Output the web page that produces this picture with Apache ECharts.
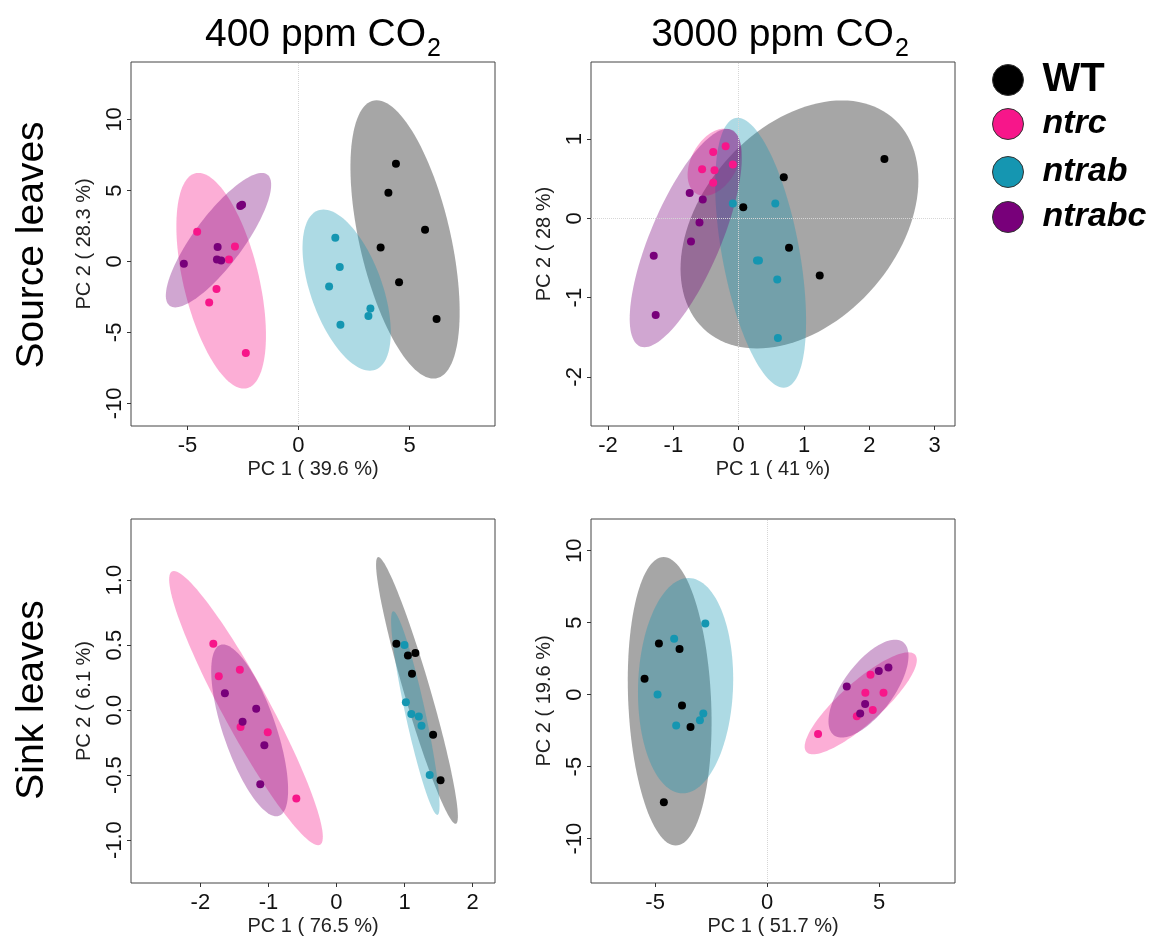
<!DOCTYPE html>
<html><head><meta charset="utf-8">
<script src="https://cdn.jsdelivr.net/npm/echarts@6/dist/echarts.min.js"></script>
<style>html,body{margin:0;padding:0;background:#fff}#c{width:1157px;height:944px}</style>
</head><body><div id="c"></div>
<script>
// ---------------- DATA ----------------
const groups = ['WT', 'ntrc', 'ntrab', 'ntrabc'];
const groupColors = ['#000000', '#F7168A', '#1596B1', '#78007A'];
const colTitles = ['400 ppm CO', '3000 ppm CO'];
const rowTitles = ['Source leaves', 'Sink leaves'];

// Panel 1: source leaves, 400 ppm
const p1XName = 'PC 1 ( 39.6 %)', p1YName = 'PC 2 ( 28.3 %)';
const p1XTicks = [-5, 0, 5], p1YTicks = [-10, -5, 0, 5, 10];
const p1WT = [[4.39, 6.88], [4.05, 4.84], [5.70, 2.23], [3.70, 0.99], [4.53, -1.46], [6.22, -4.06]];
const p1ntrc = [[-4.56, 2.09], [-2.86, 1.06], [-3.13, 0.14], [-3.69, -1.95], [-4.02, -2.89], [-2.37, -6.46]];
const p1ntrab = [[1.66, 1.67], [1.86, -0.40], [1.38, -1.76], [3.24, -3.31], [3.15, -3.85], [1.89, -4.46]];
const p1ntrabc = [[-2.62, 3.90], [-2.54, 3.99], [-3.64, 1.01], [-3.67, 0.14], [-3.48, 0.07], [-5.16, -0.16]];
// ellipse: [centre x, centre y, topmost x, topmost y, horizontal half-width at centre]
const p1Ell = [[4.80, 1.55, 3.52, 11.36, 2.1], [-3.48, -1.36, -4.5, 6.24, 1.74], [2.17, -2.02, 1.125, 3.66, 1.69], [-3.6, 1.5, -1.65, 6.24, 1.35]];

// Panel 2: source leaves, 3000 ppm
const p2XName = 'PC 1 ( 41 %)', p2YName = 'PC 2 ( 28 %)';
const p2XTicks = [-2, -1, 0, 1, 2, 3], p2YTicks = [-2, -1, 0, 1];
const p2WT = [[2.23, 0.75], [0.69, 0.52], [0.07, 0.14], [0.77, -0.37], [1.24, -0.72]];
const p2ntrc = [[-0.20, 0.91], [-0.39, 0.84], [-0.56, 0.62], [-0.37, 0.61], [-0.09, 0.68], [-0.39, 0.45]];
const p2ntrab = [[-0.09, 0.19], [0.56, 0.19], [0.28, -0.53], [0.31, -0.53], [0.59, -0.77], [0.60, -1.51]];
const p2ntrabc = [[-0.75, 0.32], [-0.55, 0.24], [-0.60, -0.05], [-0.73, -0.29], [-1.30, -0.47], [-1.27, -1.22]];
const p2Ell = [[0.93, -0.076, 1.58, 1.49, 1.7], [-0.372, 0.71, -0.219, 1.134, 0.38], [0.336, -0.433, -0.015, 1.27, 0.6], [-0.81, -0.248, -0.178, 1.13, 0.58]];

// Panel 3: sink leaves, 400 ppm
const p3XName = 'PC 1 ( 76.5 %)', p3YName = 'PC 2 ( 6.1 %)';
const p3XTicks = [-2, -1, 0, 1, 2], p3YTicks = [-1, -0.5, 0, 0.5, 1];
const p3WT = [[0.88, 0.51], [1.16, 0.44], [1.05, 0.42], [1.11, 0.28], [1.42, -0.19], [1.53, -0.54]];
const p3ntrc = [[-1.81, 0.51], [-1.73, 0.26], [-1.42, 0.31], [-1.41, -0.13], [-1.01, -0.17], [-0.59, -0.68]];
const p3ntrab = [[1.00, 0.50], [1.02, 0.06], [1.10, -0.03], [1.21, -0.05], [1.25, -0.12], [1.37, -0.50]];
const p3ntrabc = [[-1.64, 0.13], [-1.18, 0.01], [-1.38, -0.09], [-1.06, -0.27], [-1.12, -0.57]];
const p3Ell = [[1.183, 0.151, 0.616, 1.177, 0.2], [-1.33, 0.015, -2.39, 1.07, 0.39], [1.159, -0.023, 0.836, 0.76, 0.15], [-1.276, -0.156, -1.667, 0.505, 0.408]];

// Panel 4: sink leaves, 3000 ppm
const p4XName = 'PC 1 ( 51.7 %)', p4YName = 'PC 2 ( 19.6 %)';
const p4XTicks = [-5, 0, 5], p4YTicks = [-10, -5, 0, 5, 10];
const p4WT = [[-4.83, 3.56], [-3.91, 3.17], [-5.47, 1.11], [-3.80, -0.76], [-3.42, -2.25], [-4.61, -7.48]];
const p4ntrc = [[4.61, 1.39], [4.38, 0.14], [5.19, 0.14], [4.71, -1.06], [4.00, -1.50], [2.27, -2.73]];
const p4ntrab = [[-2.76, 4.95], [-4.15, 3.89], [-4.89, 0.02], [-2.85, -1.30], [-3.00, -1.78], [-4.06, -2.15]];
const p4ntrabc = [[5.41, 1.88], [4.98, 1.64], [3.55, 0.56], [4.37, -0.65], [4.15, -1.30]];
const p4Ell = [[-4.35, -0.46, -4.62, 9.56, 1.85], [4.175, -0.60, 6.30, 2.94, 1.32], [-3.64, 0.625, -3.51, 8.1, 2.12], [4.52, 0.42, 5.71, 3.82, 1.33]];

// ---------------- LAYOUT ----------------
const FONT = "'Liberation Sans', Arial, Helvetica, sans-serif";
const panels = [
  { left: 131, top: 62, xr: [-7.54, 8.85], yr: [-11.6, 14.06], xName: p1XName, yName: p1YName, xTicks: p1XTicks, yTicks: p1YTicks, pts: [p1WT, p1ntrc, p1ntrab, p1ntrabc], ell: p1Ell, zx: true, zy: false, yDec: 0 },
  { left: 591, top: 62, xr: [-2.26, 3.31], yr: [-2.62, 1.975], xName: p2XName, yName: p2YName, xTicks: p2XTicks, yTicks: p2YTicks, pts: [p2WT, p2ntrc, p2ntrab, p2ntrabc], ell: p2Ell, zx: true, zy: true, yDec: 0 },
  { left: 131, top: 519, xr: [-3.02, 2.33], yr: [-1.33, 1.47], xName: p3XName, yName: p3YName, xTicks: p3XTicks, yTicks: p3YTicks, pts: [p3WT, p3ntrc, p3ntrab, p3ntrabc], ell: p3Ell, zx: false, zy: false, yDec: 1 },
  { left: 591, top: 519, xr: [-7.86, 8.38], yr: [-13.08, 12.2], xName: p4XName, yName: p4YName, xTicks: p4XTicks, yTicks: p4YTicks, pts: [p4WT, p4ntrc, p4ntrab, p4ntrabc], ell: p4Ell, zx: true, zy: false, yDec: 0 }
];
const W = 364, H = 364;
const legendCentersY = [79, 126, 174, 219];

function rgba(hex, a) {
  const n = parseInt(hex.slice(1), 16);
  return 'rgba(' + ((n >> 16) & 255) + ',' + ((n >> 8) & 255) + ',' + (n & 255) + ',' + a + ')';
}

function ellipseRender(color) {
  return function (params, api) {
    const cx = api.value(0), cy = api.value(1), tx = api.value(2), ty = api.value(3), hw = api.value(4);
    const pts = [];
    const N = 120;
    for (let k = 0; k < N; k++) {
      const t = 2 * Math.PI * k / N;
      pts.push(api.coord([cx + (tx - cx) * Math.cos(t) + hw * Math.sin(t), cy + (ty - cy) * Math.cos(t)]));
    }
    return { type: 'polygon', shape: { points: pts }, style: { fill: rgba(color, 0.35) } };
  };
}

const grids = [], xAxes = [], yAxes = [], series = [];
panels.forEach((p, i) => {
  grids.push({ left: p.left, top: p.top, width: W, height: H, show: true, borderColor: '#444', borderWidth: 1, backgroundColor: 'transparent' });
  xAxes.push({
    type: 'value', gridIndex: i, min: p.xr[0], max: p.xr[1],
    name: p.xName, nameLocation: 'middle', nameGap: 33,
    nameTextStyle: { fontSize: 20, color: '#222', fontFamily: FONT },
    axisLine: { show: false, onZero: false },
    axisTick: { show: true, customValues: p.xTicks, length: 4, lineStyle: { color: '#333' } },
    axisLabel: { customValues: p.xTicks, fontSize: 22, color: '#111', margin: 9, fontFamily: FONT },
    splitLine: { show: false }
  });
  yAxes.push({
    type: 'value', gridIndex: i, min: p.yr[0], max: p.yr[1],
    name: p.yName, nameLocation: 'middle', nameGap: 37,
    nameTextStyle: { fontSize: 20, color: '#222', fontFamily: FONT },
    axisLine: { show: false, onZero: false },
    axisTick: { show: true, customValues: p.yTicks, length: 4, lineStyle: { color: '#333' } },
    axisLabel: { customValues: p.yTicks, rotate: 90, fontSize: 22, color: '#111', margin: 5, fontFamily: FONT,
      formatter: v => Number(v).toFixed(p.yDec) },
    splitLine: { show: false }
  });
  // zero reference lines
  const ml = [];
  if (p.zx) ml.push({ xAxis: 0 });
  if (p.zy) ml.push({ yAxis: 0 });
  if (ml.length) {
    series.push({
      type: 'scatter', name: 'zero' + i, xAxisIndex: i, yAxisIndex: i, data: [], silent: true, z: 0,
      markLine: { silent: true, symbol: ['none', 'none'], label: { show: false }, animation: false,
        lineStyle: { color: '#d6d6d6', type: 'dotted', width: 1 }, data: ml }
    });
  }
});
// points (declared first so legend picks their style)
panels.forEach((p, i) => {
  groups.forEach((g, gi) => {
    series.push({
      type: 'scatter', name: g, xAxisIndex: i, yAxisIndex: i, data: p.pts[gi],
      symbol: 'circle', symbolSize: 8, z: 5,
      itemStyle: { color: groupColors[gi], borderWidth: 0, opacity: 1 }
    });
  });
});
// ellipses
panels.forEach((p, i) => {
  groups.forEach((g, gi) => {
    series.push({
      type: 'custom', name: g, xAxisIndex: i, yAxisIndex: i, data: [p.ell[gi]], z: 2,
      encode: { x: [0, 2], y: [1, 3] },
      renderItem: ellipseRender(groupColors[gi]), silent: true,
      itemStyle: { color: groupColors[gi] }
    });
  });
});

const graphics = [];
// column titles
[323, 780].forEach((cx, k) => {
  graphics.push({
    type: 'text', x: cx, y: 38,
    style: {
      text: '{m|' + colTitles[k] + '}{s|2}', x: 0, y: 0, align: 'center', verticalAlign: 'middle',
      rich: {
        m: { fontSize: 39, fontFamily: FONT, fill: '#000', verticalAlign: 'top', lineHeight: 44 },
        s: { fontSize: 25, fontFamily: FONT, fill: '#000', verticalAlign: 'top', padding: [21, 0, 0, 1], lineHeight: 28 }
      }
    }
  });
});
// row titles
[245, 700].forEach((cy, k) => {
  graphics.push({
    type: 'text', x: 32, y: cy, rotation: Math.PI / 2,
    style: { text: rowTitles[k], align: 'center', verticalAlign: 'middle', fontSize: 39, fontFamily: FONT, fill: '#000' }
  });
});

// one legend component per group, placed at fixed rows
const legends = groups.map((g, gi) => ({
  data: [g], orient: 'vertical', left: 992, top: legendCentersY[gi] - 19, itemWidth: 31, itemHeight: 31,
  icon: 'circle', selectedMode: false, padding: 0,
  itemStyle: { borderColor: '#333', borderWidth: 1, opacity: 1 },
  formatter: name => name === 'WT' ? '{n|WT}' : '{i|' + name + '}',
  textStyle: {
    rich: {
      n: { fontSize: 40, fontWeight: 'bold', fontFamily: FONT, color: '#000', padding: [0, 0, 0, 14], lineHeight: 38 },
      i: { fontSize: 34, fontWeight: 'bold', fontStyle: 'italic', fontFamily: FONT, color: '#000', padding: [0, 0, 0, 14], lineHeight: 38 }
    }
  }
}));

const chart = echarts.init(document.getElementById('c'), null, { renderer: 'canvas' });
chart.setOption({
  animation: false,
  backgroundColor: '#ffffff',
  grid: grids, xAxis: xAxes, yAxis: yAxes, series: series,
  graphic: graphics,
  legend: legends
});
</script>
</body></html>
